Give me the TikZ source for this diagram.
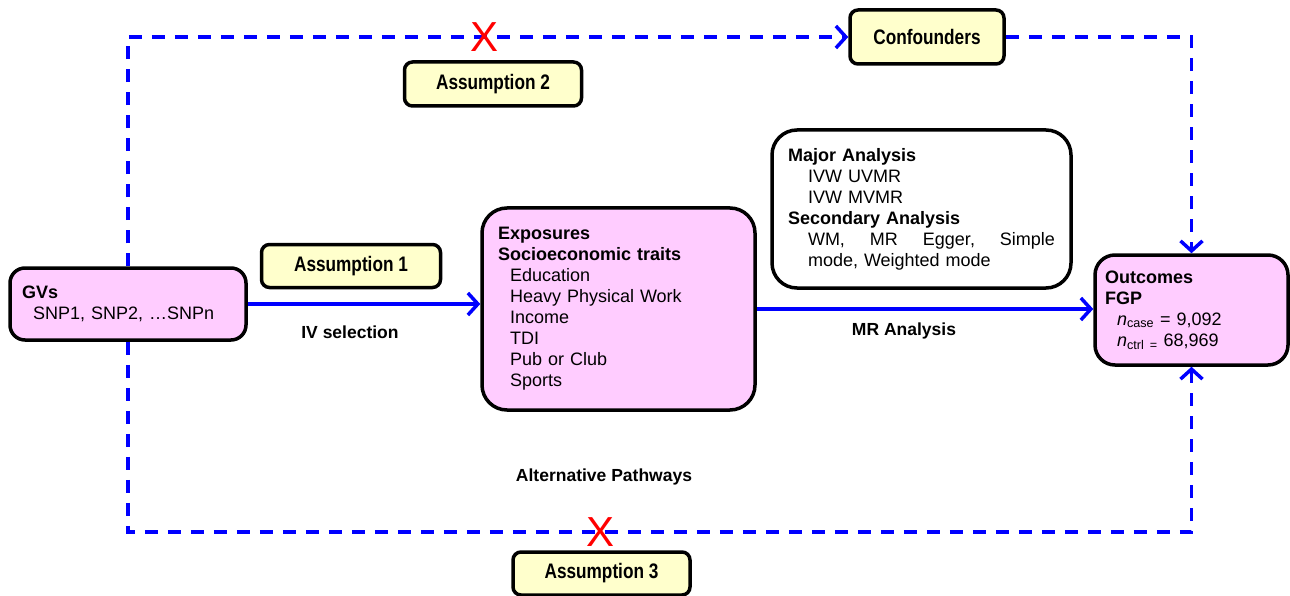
\documentclass[tikz,border=0pt]{standalone}
\usepackage{fontspec}
\setmainfont{Liberation Sans}
\newfontfamily\narrowfont[FakeStretch=0.82]{Liberation Sans}
\usetikzlibrary{arrows.meta}
\definecolor{pinkfill}{HTML}{FFCCFF}
\definecolor{yellowfill}{HTML}{FFFFCC}
\definecolor{lineblue}{HTML}{0000FF}
\begin{document}
\begin{tikzpicture}[x=1pt,y=-1pt,
  every node/.style={font=\fontsize{18}{21}\selectfont},
  assum/.style={draw=black, line width=3.5pt, fill=yellowfill, rounded corners=8pt,
    inner sep=0pt, font=\narrowfont\bfseries\fontsize{21}{24}\selectfont},
  bigbox/.style={draw=black, line width=3.5pt, align=left, inner ysep=0pt},
  lab/.style={font=\bfseries\fontsize{17.5}{20}\selectfont, inner sep=0pt},
  cross/.style={text=red, font=\fontsize{42}{42}\selectfont, inner sep=0pt},
  solidarrow/.style={draw=lineblue, line width=3.5pt, -{Straight Barb[length=10pt,width=22pt]}},
  dasharrow/.style={draw=lineblue, line width=3.5pt, dash pattern=on 13pt off 10pt, -{Straight Barb[length=10pt,width=22pt]}}
]
\useasboundingbox (0,0) rectangle (1290,596);

% boxes
\node[assum, minimum width=154pt, minimum height=54pt] (conf) at (927,37) {Confounders};
\node[assum, minimum width=177pt, minimum height=44pt] (a2) at (493,84) {Assumption 2};
\node[assum, minimum width=179pt, minimum height=43pt] (a1) at (351,266) {Assumption 1};
\node[assum, minimum width=177pt, minimum height=43pt] (a3) at (601.5,573.5) {Assumption 3};

\node[bigbox, fill=pinkfill, rounded corners=15pt, inner xsep=12pt, text width=212pt,
  minimum height=72pt] (gv) at (128,304)
  {\textbf{GVs}\\\hspace*{11pt}SNP1, SNP2, …SNPn};

\node[bigbox, fill=pinkfill, rounded corners=25pt, inner xsep=16pt, text width=241pt,
  minimum height=202pt] (exp) at (618.5,309)
  {\textbf{Exposures}\\
   \textbf{Socioeconomic traits}\\
   \hspace*{12pt}Education\\
   \hspace*{12pt}Heavy Physical Work\\
   \hspace*{12pt}Income\\
   \hspace*{12pt}TDI\\
   \hspace*{12pt}Pub or Club\\
   \hspace*{12pt}Sports};

\node[bigbox, fill=white, rounded corners=25pt, inner xsep=16pt, text width=267pt,
  minimum height=158pt] (ana) at (921.5,209)
  {\textbf{Major Analysis}\\
   \hspace*{20pt}IVW UVMR\\
   \hspace*{20pt}IVW MVMR\\
   \textbf{Secondary Analysis}\\
   \hspace*{20pt}WM,\hfill MR\hfill Egger,\hfill Simple\\
   \hspace*{20pt}mode, Weighted mode};

\node[bigbox, fill=pinkfill, rounded corners=20pt, inner xsep=10pt, text width=173pt,
  minimum height=110pt] (out) at (1191.5,310)
  {\textbf{Outcomes}\\
   \textbf{FGP}\\
   \hspace*{12pt}{\itshape n}\textsubscript{case} = 9,092\\
   \hspace*{12pt}{\itshape n}\textsubscript{ctrl =} 68,969};

% labels
\node[lab] (ivsel) at (350,332) {IV selection};
\node[lab] (mran) at (904,331) {MR Analysis};
\node[lab] (alt) at (604,477) {Alternative Pathways};

% solid arrows
\draw[solidarrow] (gv.east) -- (gv.east -| exp.west);
\draw[solidarrow] (exp.east) -- (exp.east -| out.west);

% dashed paths
\coordinate (bl) at (128,532);
\draw[dasharrow] (gv.north) |- (conf.west);
\draw[dasharrow] (conf.east) -| (out.north);
\draw[dasharrow] (gv.south) -- (bl) -| (out.south);

% crosses
\node[cross] (xtop) at (485,37) {X};
\node[cross] (xbot) at (600,532) {X};
\end{tikzpicture}
\end{document}
